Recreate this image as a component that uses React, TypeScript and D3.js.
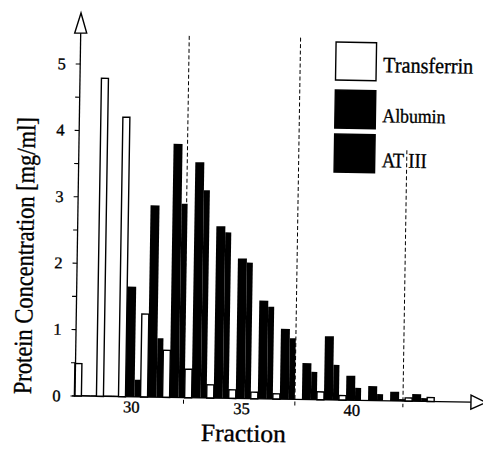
import React from "react";
import * as d3 from "d3";

const fractions = [28, 29, 30, 31, 32, 33, 34, 35, 36, 37, 38, 39, 40, 41, 42, 43, 44];
const transferrin = [0.49, 4.79, 4.21, 1.25, 0.71, 0.43, 0.2, 0.13, 0.1, 0.08, 0, 0.12, 0.07, 0, 0, 0.05, 0.06];
const albumin = [0.015, 0.015, 1.66, 2.89, 3.82, 3.55, 2.59, 2.11, 1.48, 1.06, 0.55, 0.96, 0.37, 0.22, 0.14, 0.11, 0];
const at3 = [0.015, 0.015, 0.26, 0.89, 2.92, 3.13, 2.5, 2.05, 1.39, 0.92, 0.42, 0.53, 0.19, 0.1, 0.03, 0.05, 0];

const xTickValues = [30, 35, 40];
const yTickValues = [0, 1, 2, 3, 4, 5];
const yMinorTicks = [0, 0.5, 1, 1.5, 2, 2.5, 3, 3.5, 4, 4.5, 5];
const dividers = [32.43, 37.48, 42.38];
const dividerTops = [5.45, 5.45, 3.78];
const legendLabels = ["Transferrin", "Albumin", "AT III"];

const FONT = "'Liberation Serif', 'Times New Roman', serif";
const TXT = { fontFamily: FONT, fill: "#000", stroke: "#000", strokeWidth: 0.35 };

export default function App() {
  const x = d3.scaleLinear().domain([30, 40]).range([130, 350.5]);
  const y = d3.scaleLinear().domain([0, 5]).range([396, 64]);
  const x0 = 75;
  const y0 = y(0);

  const series = [
    { values: transferrin, l: -11.5, r: -4.5, fill: "#fff", stroke: "#000" },
    { values: albumin, l: -4.5, r: 4.5, fill: "#000", stroke: "none" },
    { values: at3, l: 4.5, r: 10.5, fill: "#000", stroke: "none" },
  ];

  const legendBoxes = [
    { y: 38, fill: "#fff", textY: 67.5, size: 22, len: 90 },
    { y: 86, fill: "#000", textY: 117.5, size: 19.5, len: 63 },
    { y: 130, fill: "#000", textY: 162.5, size: 21, len: 45 },
  ];

  return (
    <svg
      width={483}
      height={452}
      style={{ position: "absolute", left: 0, top: 0, background: "#fff" }}
    >
      <rect x={0} y={0} width={483} height={452} fill="#fff" />
      <g transform={`rotate(0.9, ${x0}, ${y0})`}>
        {dividers.map((d, i) => (
          <line
            key={"dv" + i}
            x1={x(d)}
            x2={x(d)}
            y1={y(dividerTops[i])}
            y2={y0 + 6}
            stroke="#000"
            strokeWidth={1}
            strokeDasharray="4,2.5"
          />
        ))}
        {series.map((s, si) =>
          fractions.map((f, i) => {
            const v = s.values[i];
            if (v <= 0) return null;
            const c = x(f);
            const top = y(v);
            const h = Math.max(y0 - top, 0.8);
            return (
              <rect
                key={`b${si}-${i}`}
                x={c + s.l}
                y={y0 - h}
                width={s.r - s.l}
                height={h}
                fill={s.fill}
                stroke={s.stroke}
                strokeWidth={s.stroke === "none" ? 0 : 1.4}
              />
            );
          })
        )}
        <line x1={x0} x2={x0} y1={y0} y2={33} stroke="#000" strokeWidth={1.3} />
        <path
          d={`M${x0},13 L${x0 + 6},33 L${x0 - 6},33 Z`}
          fill="#fff"
          stroke="#000"
          strokeWidth={1.4}
        />
        {yMinorTicks.map((t) => (
          <line key={"yt" + t} x1={x0 - 4.5} x2={x0} y1={y(t)} y2={y(t)} stroke="#000" strokeWidth={1.1} />
        ))}
        {yTickValues.map((t) => (
          <text key={"yl" + t} x={60.5} y={y(t) + 5.5} textAnchor="end" fontSize={16.5} {...TXT}>
            {t}
          </text>
        ))}
        <line x1={72} x2={471} y1={y0} y2={y0} stroke="#000" strokeWidth={1.3} />
        <path
          d={`M${486},${y0} L${471},${y0 - 7} L${471},${y0 + 7} Z`}
          fill="#fff"
          stroke="#000"
          strokeWidth={1.4}
        />
        {xTickValues.map((t) => (
          <text key={"xl" + t} x={x(t) + 1.5} y={411.5} textAnchor="middle" fontSize={16.5} {...TXT}>
            {t}
          </text>
        ))}
        <text
          x={244}
          y={439}
          textAnchor="middle"
          fontSize={25}
          textLength={85}
          lengthAdjust="spacingAndGlyphs"
          {...TXT}
        >
          Fraction
        </text>
        <text
          transform={`translate(31, 256.5) rotate(-90)`}
          textAnchor="middle"
          fontSize={26}
          textLength={277}
          lengthAdjust="spacingAndGlyphs"
          {...TXT}
        >
          Protein Concentration [mg/ml]
        </text>
        {legendBoxes.map((b, i) => (
          <g key={"lg" + i}>
            <rect
              x={330.5}
              y={b.y}
              width={40.5}
              height={38}
              fill={b.fill}
              stroke="#000"
              strokeWidth={1.4}
            />
            <text
              x={378}
              y={b.textY}
              fontSize={b.size}
              textLength={b.len}
              lengthAdjust="spacingAndGlyphs"
              {...TXT}
            >
              {legendLabels[i]}
            </text>
          </g>
        ))}
      </g>
    </svg>
  );
}
